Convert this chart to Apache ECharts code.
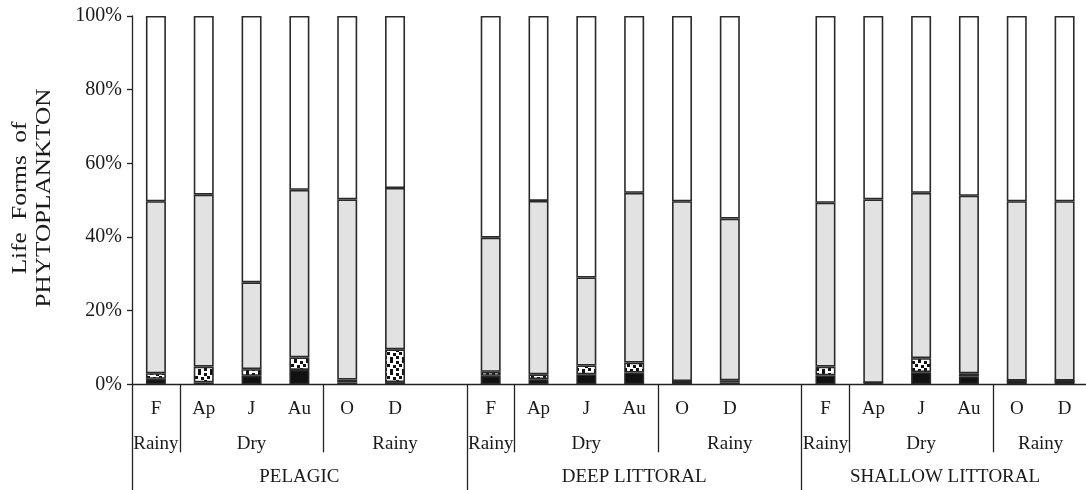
<!DOCTYPE html>
<html><head><meta charset="utf-8">
<script src="https://cdn.jsdelivr.net/npm/echarts@6/dist/echarts.min.js"></script>
<style>html,body{margin:0;padding:0;background:#fff}#c{width:1086px;height:490px}</style>
</head><body><div id="c"></div>
<script>
// ---- data ----
const sites = ['PELAGIC', 'DEEP LITTORAL', 'SHALLOW LITTORAL'];
const months = ['F', 'Ap', 'J', 'Au', 'O', 'D'];
const seasonNames = ['Rainy', 'Dry', 'Rainy'];
const yTicks = [0, 20, 40, 60, 80, 100];
// per site, months F..D (percent of total)
const blackPct  = [1.5, 0.5, 2.3, 3.9, 0.5, 0.6,   2.3, 1.4, 2.7, 3.2, 0.9, 0.5,   2.4, 0.4, 3.3, 2.2, 1.0, 1.0];
const dottedPct = [1.5, 4.3, 1.8, 3.4, 0.8, 8.9,   1.1, 1.3, 2.4, 2.7, 0.0, 0.6,   2.4, 0.0, 3.8, 0.8, 0.0, 0.0];
const greyPct   = [46.7, 46.7, 23.6, 45.5, 48.9, 43.8,   36.4, 47.1, 23.9, 46.1, 48.8, 43.9,   44.5, 49.8, 44.9, 48.2, 48.7, 48.7];
const whitePct  = [50.3, 48.5, 72.3, 47.2, 49.8, 46.7,   60.2, 50.2, 71.0, 48.0, 50.3, 55.0,   50.7, 49.8, 48.0, 48.8, 50.3, 50.3];

// ---- build categories with a blank slot between sites ----
const cats = [];
sites.forEach((s, i) => { months.forEach(m => cats.push(m)); if (i < sites.length - 1) cats.push(''); });
function withGaps(arr) {
  const out = [];
  sites.forEach((s, i) => {
    for (let k = 0; k < months.length; k++) out.push(arr[i * months.length + k]);
    if (i < sites.length - 1) out.push('-');
  });
  return out;
}
const nSlots = cats.length;
// season/site boundaries on the slot scale
const seasonTicks = [], groupTicks = [], seasonLabelPos = {}, groupLabelPos = {};
sites.forEach((s, i) => {
  const start = i * (months.length + 1);
  const end = Math.min(start + months.length + 1, nSlots);
  groupTicks.push(start);
  groupLabelPos[((start + end) / 2).toFixed(2)] = s;
  seasonTicks.push(start + 1, start + 4);
  seasonLabelPos[(start + 0.5).toFixed(2)] = seasonNames[0];
  seasonLabelPos[(start + 2.5).toFixed(2)] = seasonNames[1];
  seasonLabelPos[((start + 4 + end) / 2).toFixed(2)] = seasonNames[2];
});

function dotPattern() {
  const c = document.createElement('canvas'); c.width = 12; c.height = 12;
  const g = c.getContext('2d');
  g.fillStyle = '#fff'; g.fillRect(0, 0, 12, 12);
  g.fillStyle = '#111';
  [[0, 1], [6, 0], [3, 4], [9, 5], [0, 8], [6, 9]].forEach(p => g.fillRect(p[0], p[1], 3, 3));
  return c;
}

const FONT = 'Liberation Serif';
const TXT = '#1a1a1a';
const border = { borderColor: '#2a2a2a', borderWidth: 1.6 };
function bar(name, data, color) {
  return { name, type: 'bar', stack: 'all', barWidth: 20, data: withGaps(data),
    itemStyle: Object.assign({ color }, border), animation: false, silent: true };
}

const chart = echarts.init(document.getElementById('c'), null, { renderer: 'canvas' });
chart.setOption({
  animation: false,
  grid: { left: 132, top: 16, width: 956.5, height: 368.3, outerBoundsMode: 'none', containLabel: false },
  xAxis: [
    { type: 'category', data: cats, position: 'bottom',
      axisLine: { lineStyle: { color: '#222', width: 1.3 } },
      axisTick: { show: false },
      axisLabel: { interval: 0, margin: 15, fontFamily: FONT, fontSize: 19, color: TXT } },
    { type: 'value', min: 0, max: nSlots, position: 'bottom', offset: 0,
      axisLine: { show: false }, splitLine: { show: false },
      axisTick: { show: true, customValues: seasonTicks, length: 68, lineStyle: { color: '#222', width: 1.3 } },
      axisLabel: { customValues: Object.keys(seasonLabelPos).map(Number), margin: 50,
        formatter: v => seasonLabelPos[Number(v).toFixed(2)] || '',
        fontFamily: FONT, fontSize: 19, color: TXT, hideOverlap: false } },
    { type: 'value', min: 0, max: nSlots, position: 'bottom', offset: 0,
      axisLine: { show: false }, splitLine: { show: false },
      axisTick: { show: true, customValues: groupTicks, length: 108, lineStyle: { color: '#222', width: 1.3 } },
      axisLabel: { customValues: Object.keys(groupLabelPos).map(Number), margin: 83,
        formatter: v => groupLabelPos[Number(v).toFixed(2)] || '',
        fontFamily: FONT, fontSize: 19, color: TXT, hideOverlap: false } }
  ],
  yAxis: { type: 'value', min: 0, max: 100, interval: 20,
    axisLine: { show: true, lineStyle: { color: '#222', width: 1.3 } },
    axisTick: { show: true, length: 5, lineStyle: { color: '#222', width: 1.3 } },
    splitLine: { show: false },
    axisLabel: { formatter: '{value}%', margin: 10, fontFamily: FONT, fontSize: 20, color: TXT,
      customValues: yTicks } },
  series: [
    bar('Black', blackPct, '#111'),
    bar('Dotted', dottedPct, { image: dotPattern(), repeat: 'repeat' }),
    bar('Grey', greyPct, '#e2e2e2'),
    bar('White', whitePct, '#ffffff')
  ],
  graphic: [
    { type: 'text', x: 20, y: 198, rotation: Math.PI / 2, scaleX: 1.2,
      style: { text: 'Life  Forms  of', font: '21px "Liberation Serif"', fill: TXT, textAlign: 'center', textVerticalAlign: 'middle' } },
    { type: 'text', x: 44, y: 198, rotation: Math.PI / 2, scaleX: 1.2,
      style: { text: 'PHYTOPLANKTON', font: '21px "Liberation Serif"', fill: TXT, textAlign: 'center', textVerticalAlign: 'middle' } }
  ]
});
</script></body></html>
